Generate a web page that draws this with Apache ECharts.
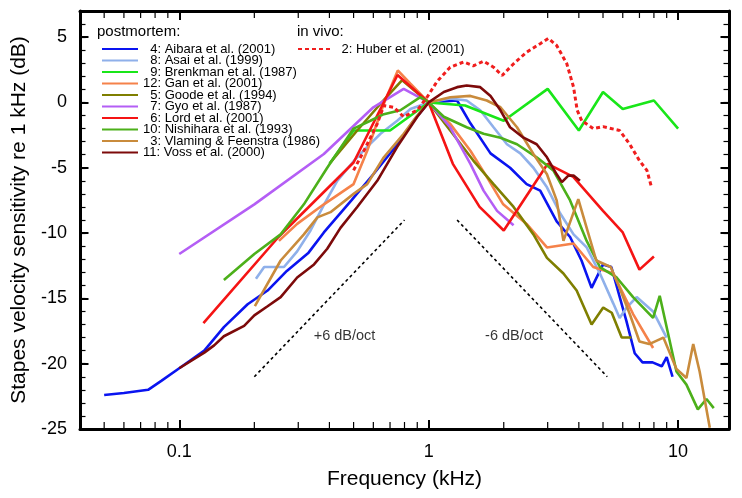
<!DOCTYPE html>
<html><head><meta charset="utf-8">
<script src="https://cdn.jsdelivr.net/npm/echarts@6/dist/echarts.min.js"></script>
<style>html,body{margin:0;padding:0;background:#fff}#c{width:742px;height:498px}</style>
</head><body><div id="c"></div>
<script>
const FONT = '"Liberation Sans", Arial, Helvetica, sans-serif';

// ---- data: [frequency kHz, dB re 1 kHz] ----
const aibara = [[0.05,-22.4],[0.06,-22.25],[0.075,-22.0],[0.085,-21.3],[0.1,-20.35],[0.126,-19.0],[0.151,-17.2],[0.188,-15.45],[0.226,-14.4],[0.27,-12.9],[0.33,-11.5],[0.38,-9.95],[0.49,-7.5],[0.6,-5.5],[0.75,-3.2],[0.87,-1.4],[1,0],[1.3,0.15],[1.47,-1.6],[1.77,-3.9],[2.12,-5.0],[2.47,-6.25],[2.8,-6.75],[3.26,-9.1],[3.69,-10.3],[4.1,-12.1],[4.5,-14.2],[5.0,-12.4],[5.4,-12.6],[6.2,-16.7],[6.7,-19.2],[7.2,-19.9],[7.9,-19.9],[8.6,-20.2],[9.0,-19.5],[9.5,-21.0]];
const asai = [[0.203,-13.5],[0.219,-12.6],[0.263,-12.6],[0.297,-11.4],[0.336,-9.8],[0.381,-7.8],[0.43,-6.0],[0.5,-4.5],[0.567,-3.4],[0.641,-2.4],[0.748,-1.4],[0.845,-0.5],[1,0],[1.22,0.3],[1.42,0.15],[1.61,-0.6],[1.82,-1.9],[2.06,-3.2],[2.33,-3.9],[2.63,-5.0],[2.98,-6.5],[3.37,-8.5],[3.81,-10.1],[4.3,-11.1],[4.86,-13.1],[5.5,-15.4],[5.83,-16.5],[6.22,-15.7],[6.82,-14.9],[7.94,-16.0],[8.99,-18.0]];
const brenkman = [[0.4,-4.7],[0.5,-2.15],[0.7,-2.15],[1,0],[1.4,-0.24],[2,-1.4],[3,1.04],[4,-2.15],[5,0.8],[6,-0.5],[8,0.15],[10,-2.0]];
const gan = [[0.251,-10.6],[0.297,-9.3],[0.38,-7.8],[0.5,-6.25],[0.567,-3.7],[0.661,-0.1],[0.752,2.45],[0.845,1.43],[1,0],[1.22,-1.64],[1.47,-3.7],[1.71,-5.7],[1.99,-7.8],[2.47,-9.3],[2.98,-11.1],[3.81,-10.8],[4.57,-12.6],[5.5,-13.1],[6.6,-16.2],[7.94,-18.8]];
const goode = [[0.404,-4.6],[0.517,-2.15],[0.641,-0.1],[0.783,1.7],[1,0],[1.22,-2.15],[1.51,-4.45],[1.82,-6.25],[2.19,-8.0],[2.63,-10.1],[2.98,-11.9],[3.47,-13.1],[3.92,-14.4],[4.5,-17.0],[5.01,-15.7],[5.42,-16.1],[5.94,-18.0],[6.5,-18.0]];
const gyo = [[0.1,-11.6],[0.2,-7.8],[0.38,-3.95],[0.6,-0.37],[0.794,1.04],[1,0],[1.22,-1.9],[1.47,-4.7],[1.66,-6.75],[1.88,-8.3],[2.19,-9.4]];
const lord = [[0.125,-16.9],[0.25,-10.3],[0.5,-4.6],[0.75,2.1],[1,0],[1.25,-4.7],[1.6,-8.0],[2,-9.8],[3,-4.7],[3.8,-5.7],[5,-8.3],[6,-9.95],[7,-12.8],[8,-11.8]];
const nishihara = [[0.151,-13.6],[0.2,-11.6],[0.255,-10.1],[0.316,-7.8],[0.392,-5.0],[0.5,-2.0],[0.584,-1.4],[0.661,-0.9],[0.77,-0.6],[0.926,0.4],[1,0],[1.15,-1.1],[1.42,-1.9],[1.66,-2.4],[1.94,-2.7],[2.26,-3.2],[2.71,-4.2],[3.16,-5.2],[3.69,-7.5],[4.3,-10.6],[4.86,-12.6],[5.67,-13.4],[6.6,-14.9],[7.94,-16.5],[8.44,-14.8],[9.85,-20.6],[10.8,-21.6],[12.0,-23.5],[13.0,-22.7],[13.9,-23.4]];
const vlaming = [[0.201,-15.6],[0.255,-12.1],[0.316,-10.1],[0.358,-8.8],[0.404,-8.4],[0.5,-7.0],[0.567,-6.25],[0.661,-4.2],[0.794,-2.4],[0.9,-1.0],[1,0],[1.22,0.4],[1.47,0.5],[1.71,0.15],[1.94,-0.37],[2.26,-1.9],[2.63,-3.95],[2.98,-5.5],[3.26,-7.5],[3.47,-10.6],[3.98,-7.4],[4.3,-9.6],[4.7,-12.1],[5.37,-12.6],[5.83,-14.2],[6.4,-16.2],[7.0,-18.3],[7.66,-18.5],[8.73,-18.0],[9.85,-20.4],[10.8,-21.1],[11.5,-18.5],[12.2,-20.6],[13.4,-24.9]];
const voss = [[0.1,-20.35],[0.126,-19.15],[0.138,-18.6],[0.151,-17.9],[0.182,-17.1],[0.2,-16.3],[0.226,-15.6],[0.255,-14.9],[0.297,-13.4],[0.347,-12.4],[0.392,-11.2],[0.443,-9.6],[0.517,-8.0],[0.622,-6.0],[0.748,-3.4],[0.9,-1.1],[1,0],[1.15,0.8],[1.3,1.17],[1.42,1.3],[1.61,1.17],[1.77,0.5],[1.94,-0.6],[2.12,-1.9],[2.4,-2.7],[2.71,-3.2],[2.98,-4.2],[3.26,-5.5],[3.42,-6.1],[3.63,-5.6],[3.81,-5.6],[4.04,-6.0]];
const huber = [[0.5,-5.2],[0.55,-3.7],[0.622,-1.64],[0.661,-0.24],[0.724,-0.37],[0.794,-1.1],[0.9,-0.6],[0.985,0.4],[1.08,1.6],[1.22,2.7],[1.38,3.1],[1.51,2.8],[1.66,3.16],[1.82,2.7],[1.97,2.06],[2.19,2.96],[2.47,3.85],[2.8,4.5],[3.02,4.9],[3.26,4.36],[3.58,2.96],[3.81,1.17],[3.94,-0.6],[4.11,-1.4],[4.57,-2.0],[5.0,-1.85],[5.83,-2.15],[6.4,-3.2],[7.0,-4.45],[7.5,-5.2],[7.8,-6.4]];
const slopeUp = [[0.2,-21],[0.8,-9]];
const slopeDown = [[1.3,-9],[5.2,-21]];
const slopeLabels = [[0.46,-17.9,'+6 dB/oct'],[2.2,-17.9,'-6 dB/oct']];

const postmortemNames = ['4: Aibara et al. (2001)','8: Asai et al. (1999)','9: Brenkman et al. (1987)','12: Gan et al. (2001)','5: Goode et al. (1994)','7: Gyo et al. (1987)','6: Lord et al. (2001)','10: Nishihara et al. (1993)','3: Vlaming & Feenstra (1986)','11: Voss et al. (2000)'];
const invivoNames = ['2: Huber et al. (2001)'];
const xTickLabels = {'-1':'0.1','0':'1','1':'10'};
const xMinorTicks = [0.05,0.06,0.07,0.08,0.09,0.2,0.3,0.4,0.5,0.6,0.7,0.8,0.9,2,3,4,5,6,7,8,9];
const X_MIN = 0.04, X_MAX = 16, Y_MIN = -25, Y_MAX = 7;

const seriesData = [aibara, asai, brenkman, gan, goode, gyo, lord, nishihara, vlaming, voss];
const colors = ['#0a14f0','#8fb0ea','#19e619','#f5824a','#7f7f00','#b45ef5','#f51414','#4cb01a','#c98b3c','#7d0a0a'];

const series = postmortemNames.map((n, i) => ({
  type: 'line', name: n, data: seriesData[i], symbol: 'none', showSymbol: false,
  lineStyle: { color: colors[i], width: 2.6 }, itemStyle: { color: colors[i] },
  xAxisIndex: 0, yAxisIndex: 0, silent: true, z: 3
}));
series.push({
  type: 'line', name: invivoNames[0], data: huber, symbol: 'none', showSymbol: false,
  lineStyle: { color: '#f01e1e', width: 3, type: [4, 3] }, itemStyle: { color: '#f01e1e' },
  xAxisIndex: 0, yAxisIndex: 0, silent: true, z: 4
});
[slopeUp, slopeDown].forEach((d, i) => series.push({
  type: 'line', name: 'slope' + i, data: d, symbol: 'none',
  lineStyle: { color: '#000', width: 1.6, type: [3, 3] }, silent: true, z: 2
}));
series.push({
  type: 'scatter', name: 'slopeText', data: slopeLabels, symbolSize: 1,
  itemStyle: { color: 'transparent' }, silent: true,
  label: { show: true, position: 'inside', formatter: p => p.value[2], color: '#000', fontSize: 14.5, fontFamily: FONT }
});
series.push({
  type: 'custom', name: 'minorTicks', data: xMinorTicks.map(v => [v, Y_MIN]),
  encode: { x: 0, y: 1 }, silent: true, clip: false, z: 5,
  renderItem: (params, api) => {
    const f = api.value(0);
    const b = api.coord([f, Y_MIN]);
    const t = api.coord([f, Y_MAX]);
    return { type: 'group', children: [
      { type: 'line', shape: { x1: b[0], y1: b[1], x2: b[0], y2: b[1] - 7 }, style: { stroke: '#000', lineWidth: 1.2 } },
      { type: 'line', shape: { x1: t[0], y1: t[1], x2: t[0], y2: t[1] + 7 }, style: { stroke: '#000', lineWidth: 1.2 } }
    ]};
  }
});

const axisLine = { show: true, onZero: false, lineStyle: { color: '#000', width: 3 } };
const xLabelFmt = v => { const l = Math.log10(v); const r = Math.round(l); return Math.abs(l - r) < 1e-6 && xTickLabels[String(r)] ? xTickLabels[String(r)] : ''; };
const yLabelFmt = v => (v % 5 === 0 && v <= 5) ? String(v) : '';

const legendBase = {
  orient: 'vertical', top: 42.5, padding: 0, itemGap: -1.5, itemHeight: 10, selectedMode: false,
  itemStyle: { opacity: 0 },
  textStyle: { fontSize: 13, color: '#000', fontFamily: FONT }
};

const option = {
  animation: false,
  backgroundColor: '#fff',
  textStyle: { fontFamily: FONT },
  grid: { left: 80, top: 11, right: 13, bottom: 69, containLabel: false },
  xAxis: [
    { type: 'log', logBase: 10, min: X_MIN, max: X_MAX, position: 'bottom',
      axisLine, axisTick: { show: true, inside: true, length: 9, lineStyle: { color: '#000', width: 2 } },
      axisLabel: { show: true, formatter: xLabelFmt, fontSize: 18, color: '#000', margin: 14, fontFamily: FONT, showMinLabel: false, showMaxLabel: false },
      splitLine: { show: false }, minorTick: { show: false },
      name: 'Frequency (kHz)', nameLocation: 'middle', nameGap: 40,
      nameTextStyle: { fontSize: 21, color: '#000', fontFamily: FONT } },
    { type: 'log', logBase: 10, min: X_MIN, max: X_MAX, position: 'top',
      axisLine, axisTick: { show: true, inside: true, length: 9, lineStyle: { color: '#000', width: 2 } },
      axisLabel: { show: false }, splitLine: { show: false } }
  ],
  yAxis: [
    { type: 'value', min: Y_MIN, max: Y_MAX, interval: 5, position: 'left',
      axisLine, axisTick: { show: true, inside: true, length: 8.5, lineStyle: { color: '#000', width: 2 } },
      axisLabel: { formatter: yLabelFmt, fontSize: 18, color: '#000', margin: 13, fontFamily: FONT, showMaxLabel: false },
      splitLine: { show: false },
      name: 'Stapes velocity sensitivity re 1 kHz (dB)', nameLocation: 'middle', nameGap: 48,
      nameTextStyle: { fontSize: 21, color: '#000', fontFamily: FONT } },
    { type: 'value', min: Y_MIN, max: Y_MAX, interval: 5, position: 'right',
      axisLine, axisTick: { show: true, inside: true, length: 8.5, lineStyle: { color: '#000', width: 2 } },
      axisLabel: { show: false }, splitLine: { show: false } },
    { type: 'value', min: Y_MIN, max: Y_MAX, interval: 1, position: 'left',
      axisLine: { show: false }, axisTick: { show: true, inside: true, length: 5.5, lineStyle: { color: '#000', width: 1.2 } },
      axisLabel: { show: false }, splitLine: { show: false } },
    { type: 'value', min: Y_MIN, max: Y_MAX, interval: 1, position: 'right',
      axisLine: { show: false }, axisTick: { show: true, inside: true, length: 5.5, lineStyle: { color: '#000', width: 1.2 } },
      axisLabel: { show: false }, splitLine: { show: false } }
  ],
  legend: [
    Object.assign({}, legendBase, { data: postmortemNames, left: 101, itemWidth: 36,
      formatter: n => (n.indexOf(':') === 1 ? '  ' + n : n) }),
    Object.assign({}, legendBase, { data: invivoNames, left: 297, itemWidth: 35,
      formatter: n => ' ' + n })
  ],
  graphic: [
    { type: 'text', left: 97, top: 24, style: { text: 'postmortem:', font: '15px ' + FONT, fill: '#000' } },
    { type: 'text', left: 297, top: 24, style: { text: 'in vivo:', font: '15px ' + FONT, fill: '#000' } }
  ],
  series
};
const chart = echarts.init(document.getElementById('c'));
chart.setOption(option);
</script>
</body></html>
